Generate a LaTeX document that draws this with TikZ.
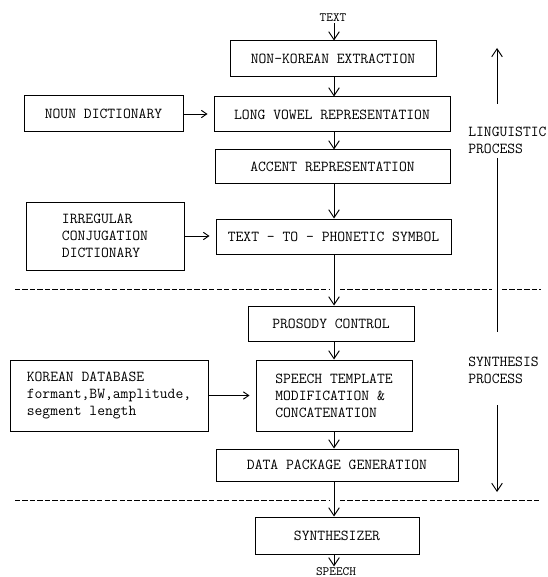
\documentclass[tikz,border=0pt]{standalone}
\usetikzlibrary{arrows.meta}
\newcommand\diafont{\fontsize{11.4}{12.75}\selectfont\ttfamily}
\newcommand\smallfont{\fontsize{9.5}{10}\selectfont\ttfamily}
\begin{document}
\begin{tikzpicture}[x=0.75pt,y=-0.75pt,
  box/.style={draw, line width=0.75pt, inner sep=2pt, align=center, font=\diafont},
  lbox/.style={box, align=left},
  lab/.style={inner sep=1pt, font=\smallfont},
  side/.style={inner sep=0pt, align=left, anchor=west, font=\diafont},
  arr/.style={line width=0.7pt, -{Straight Barb[length=6pt,width=8pt]}},
  sarr/.style={line width=0.7pt, -{Straight Barb[length=4pt,width=5.5pt]}, shorten >=4.5pt},
  ln/.style={line width=0.7pt},
  dsh/.style={line width=0.7pt, dash pattern=on 4pt off 1.6pt}]
\useasboundingbox (0,0) rectangle (548,577);

% column of the main flow
\coordinate (col) at (334,0);

% labels
\node[lab] (text) at (333,18) {TEXT};
\node[lab] (speech) at (336,572) {SPEECH};

% main boxes
\node[box, minimum width=154.5pt, minimum height=27pt] (nk) at (333,59) {NON-KOREAN EXTRACTION};
\node[box, minimum width=177pt, minimum height=26.25pt] (lv) at (332,114.5) {LONG VOWEL REPRESENTATION};
\node[box, minimum width=176.25pt, minimum height=25.5pt] (acc) at (332.5,167) {ACCENT REPRESENTATION};
\node[box, minimum width=176.25pt, minimum height=26.25pt] (ttp) at (333.5,236.5) {TEXT - TO - PHONETIC SYMBOL};
\node[box, minimum width=124.5pt, minimum height=26.25pt] (pros) at (331,323.5) {PROSODY CONTROL};
\node[lbox, minimum width=117pt, minimum height=53.25pt] (stm) at (334,395.5) {SPEECH TEMPLATE\\MODIFICATION \&\\CONCATENATION};
\node[box, minimum width=181.5pt, minimum height=24pt] (dpg) at (337,465) {DATA PACKAGE GENERATION};
\node[box, minimum width=123pt, minimum height=27.75pt] (syn) at (337,535.5) {SYNTHESIZER};

% side boxes
\node[box, minimum width=119.25pt, minimum height=27pt] (noun) at (103.5,114) {NOUN DICTIONARY};
\node[lbox, minimum width=118.5pt, minimum height=51pt] (irr) at (105,236) {IRREGULAR\\CONJUGATION\\DICTIONARY};
\node[lbox, minimum width=148.5pt, minimum height=53.25pt] (kdb) at (109,395.5) {KOREAN DATABASE\\formant,BW,amplitude,\\segment length};

% main flow arrows
\draw[arr] (text.south -| col) -- (nk.north -| col);
\draw[arr] (nk.south -| col) -- (lv.north -| col);
\draw[arr] (lv.south -| col) -- (acc.north -| col);
\draw[arr] (acc.south -| col) -- (ttp.north -| col);
\draw[arr] (ttp.south -| col) -- (pros.north -| col);
\draw[arr] (pros.south -| col) -- (stm.north -| col);
\draw[arr] (stm.south -| col) -- (dpg.north -| col);
\draw[arr] (dpg.south -| col) -- (syn.north -| col);
\draw[arr] (syn.south -| col) -- (speech.north -| col);

% side arrows
\draw[sarr] (noun.east) -- (noun.east -| lv.west);
\draw[sarr] (irr.east) -- (irr.east -| ttp.west);
\draw[sarr] (kdb.east) -- (kdb.east -| stm.west);

% dashed separators
\draw[dsh] (15,289) -- (329,289);
\draw[dsh] (340,289) -- (492,289);
\draw[dsh] (502,289) -- (541,289);
\draw[dsh] (15,500) -- (329,500);
\draw[dsh] (340,500) -- (541,500);

% process labels and direction arrows
\node[side] (ling) at (468,140) {LINGUISTIC\\PROCESS};
\node[side] (synp) at (468,370) {SYNTHESIS\\PROCESS};
\coordinate (uTip) at (497,48);
\coordinate (uA) at (497,104);
\coordinate (uB) at (497,158);
\coordinate (uC) at (497,332);
\coordinate (dA) at (497,405);
\coordinate (dTip) at (497,492);
\draw[arr] (uA) -- (uTip);
\draw[ln] (uB) -- (uC);
\draw[arr] (dA) -- (dTip);
\end{tikzpicture}
\end{document}
